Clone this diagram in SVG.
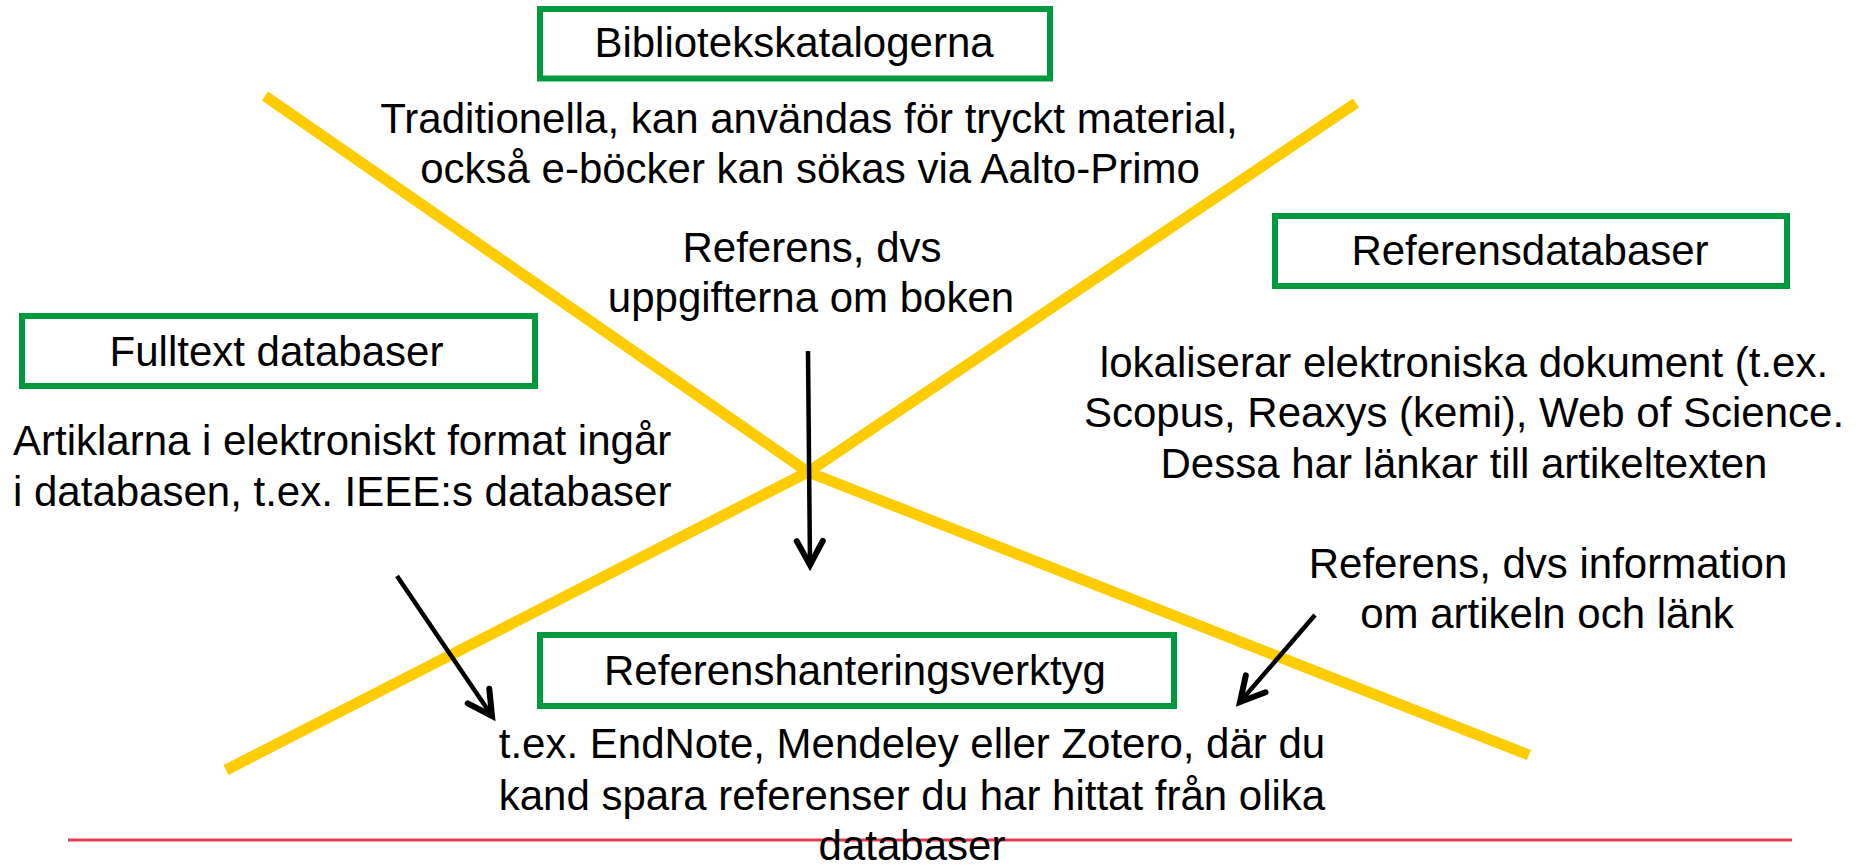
<svg xmlns="http://www.w3.org/2000/svg" width="1864" height="866" viewBox="0 0 1864 866">
  <style>
    text { font-family: "Liberation Sans", Arial, sans-serif; font-size: 42px; fill: #000; }
    .c { text-anchor: middle; }
    .box { fill: #fff; stroke: #009A3E; stroke-width: 6; }
    .yel { stroke: #FFCC00; stroke-width: 11; fill: none; stroke-linecap: butt; }
    .arr { stroke: #000; stroke-width: 4.5; fill: none; marker-end: url(#ah); }
  </style>
  <defs>
    <marker id="ah" markerUnits="userSpaceOnUse" markerWidth="40" markerHeight="40" viewBox="-30 -20 40 40" refX="0" refY="0" orient="auto">
      <path d="M-24,-13 L0,0 L-24,13" fill="none" stroke="#000" stroke-width="6" stroke-linecap="round" stroke-linejoin="miter"/>
    </marker>
  </defs>
  <rect width="1864" height="866" fill="#fff"/>

  <g id="cross">
    <line class="yel" x1="265" y1="96" x2="808" y2="472"/>
    <line class="yel" x1="808" y1="472" x2="1529" y2="755"/>
    <line class="yel" x1="226" y1="770" x2="808" y2="472"/>
    <line class="yel" x1="808" y1="472" x2="1356" y2="103"/>
  </g>

  <line id="baseline-rule" x1="68" y1="840" x2="1792" y2="840" stroke="#E8384F" stroke-width="3"/>

  <g id="node-bibliotek">
    <rect class="box" x="540" y="9" width="510" height="69.5"/>
    <text class="c" x="794" y="57">Bibliotekskatalogerna</text>
  </g>
  <g id="desc-bibliotek">
    <text class="c" x="809" y="133">Traditionella, kan användas för tryckt material,</text>
    <text class="c" x="810" y="183">också e-böcker kan sökas via Aalto-Primo</text>
  </g>
  <g id="label-bok">
    <text class="c" x="812" y="262">Referens, dvs</text>
    <text class="c" x="811" y="312">uppgifterna om boken</text>
  </g>

  <g id="node-fulltext">
    <rect class="box" x="22" y="316" width="513" height="70"/>
    <text class="c" x="276.5" y="366">Fulltext databaser</text>
  </g>
  <g id="desc-fulltext">
    <text x="13" y="455">Artiklarna i elektroniskt format ingår</text>
    <text x="13" y="506">i databasen, t.ex. IEEE:s databaser</text>
  </g>

  <g id="node-referensdatabaser">
    <rect class="box" x="1275" y="216" width="512" height="70"/>
    <text class="c" x="1530" y="265">Referensdatabaser</text>
  </g>
  <g id="desc-referensdatabaser">
    <text class="c" x="1464" y="377">lokaliserar elektroniska dokument (t.ex.</text>
    <text class="c" x="1464" y="427">Scopus, Reaxys (kemi), Web of Science.</text>
    <text class="c" x="1464" y="478">Dessa har länkar till artikeltexten</text>
  </g>
  <g id="label-artikel">
    <text class="c" x="1548" y="578">Referens, dvs information</text>
    <text class="c" x="1547" y="628">om artikeln och länk</text>
  </g>

  <g id="node-referenshantering">
    <rect class="box" x="540" y="635" width="634" height="71"/>
    <text class="c" x="855" y="685">Referenshanteringsverktyg</text>
  </g>
  <g id="desc-referenshantering">
    <text class="c" x="912" y="758">t.ex. EndNote, Mendeley eller Zotero, där du</text>
    <text class="c" x="912" y="810">kand spara referenser du har hittat från olika</text>
    <text class="c" x="912" y="860">databaser</text>
  </g>

  <g id="connectors">
    <line class="arr" x1="808" y1="351" x2="810" y2="565"/>
    <line class="arr" x1="397" y1="576" x2="492" y2="716"/>
    <line class="arr" x1="1315" y1="615" x2="1240" y2="702"/>
  </g>
</svg>
